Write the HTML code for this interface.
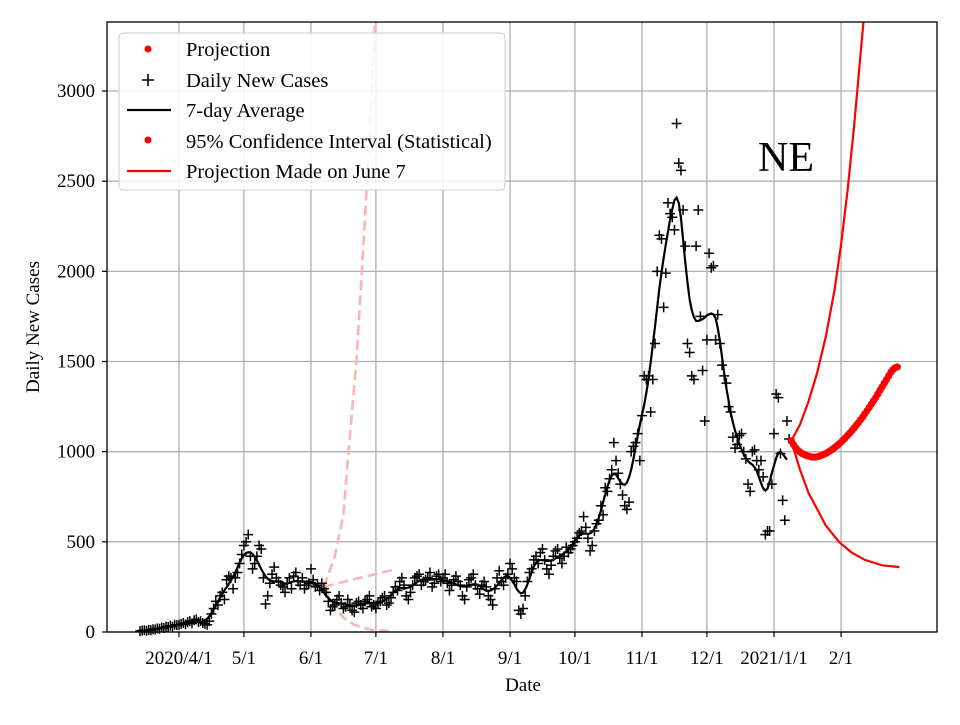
<!DOCTYPE html>
<html><head><meta charset="utf-8">
<style>
html,body{margin:0;padding:0;background:#fff;}
svg text{font-family:"Liberation Serif","DejaVu Serif",serif;}
</style></head>
<body>
<svg id="chart" width="960" height="720" xmlns="http://www.w3.org/2000/svg">
<rect x="0" y="0" width="960" height="720" fill="#fff"/>
<g id="grid"></g>
<g id="series"></g>
<rect x="107" y="22" width="830" height="610" fill="none" stroke="#000" stroke-width="1.3"/>
<g id="axes"></g>
<text x="523" y="691" font-size="19" text-anchor="middle">Date</text>
<text x="39" y="327" font-size="19" text-anchor="middle" transform="rotate(-90 39 327)">Daily New Cases</text>
<text x="758" y="171" font-size="42">NE</text>
<g>
<rect x="119" y="33" width="386" height="157" rx="4" fill="#fff" fill-opacity="0.85" stroke="#ccc" stroke-width="1"/>
<g><circle cx="148" cy="49" r="3.5" fill="#f00"/><text x="186" y="56" font-size="20.5">Projection</text></g>
<g><path d="M142 80h12M148 74v12" stroke="#000" stroke-width="1.6"/><text x="186" y="87" font-size="20.5">Daily New Cases</text></g>
<g><path d="M127 110h44" stroke="#000" stroke-width="2.2"/><text x="186" y="117" font-size="20.5">7-day Average</text></g>
<g><circle cx="148" cy="140" r="3.5" fill="#f00"/><text x="186" y="148" font-size="20.5">95% Confidence Interval (Statistical)</text></g>
<g><path d="M127 171h44" stroke="#f00" stroke-width="2.2"/><text x="186" y="178" font-size="20.5">Projection Made on June 7</text></g>
</g>
</svg>
<script>
// data: days since 2020-04-01
const startDay = -18;
const dailyCases = [
5,8,10,6,12,10,15,14,20,18,25,22,30,28,35,30,40,38,
40,45,50,42,55,60,48,65,70,55,60,50,45,40,60,
100,130,170,150,200,220,180,290,310,300,240,300,330,380,430,
480,500,540,420,350,380,420,480,460,300,155,200,270,320,360,
300,280,260,250,220,270,300,240,310,330,280,260,300,240,260,270,
350,290,250,260,230,270,240,220,170,120,140,150,180,200,160,
130,140,180,150,120,110,160,170,150,130,170,180,200,140,150,
130,160,170,190,200,150,160,190,220,250,230,280,300,260,200,
180,220,260,300,310,320,260,280,290,300,330,250,270,310,320,280,
300,320,270,230,260,290,310,280,260,200,180,250,290,300,320,
260,240,210,260,280,250,200,180,150,240,300,340,280,260,300,320,
380,350,300,280,120,100,130,200,280,330,350,400,420,380,440,
460,400,350,320,370,420,450,460,410,380,420,470,440,460,480,
500,520,550,560,640,580,520,450,480,560,600,620,700,650,800,
780,850,900,1050,950,880,820,760,700,680,720,1000,1030,1050,1100,950,
1200,1420,1400,1420,1220,1400,1600,2000,2200,2180,1800,1990,2380,2320,2300,
2230,2820,2600,2560,2340,2140,1600,1550,1420,1400,2140,2340,1750,1450,1170,
1620,2100,2020,2030,1620,1760,1600,1480,1420,1380,1250,1220,1080,1020,1040,
1090,1100,1000,960,820,780,1000,1010,950,900,950,860,540,560,560,820,
1100,1320,1300,990,730,620,1170,1070];
const projStart = 283;
const projection = [1060,1040,1022,1008,998,990,984,979,975,972,970,970,972,975,980,985,990,997,1005,1013,1022,1032,1042,1053,1065,1077,1090,1103,1117,1131,1146,1161,1177,1193,1210,1227,1245,1263,1282,1300,1320,1340,1360,1380,1400,1420,1440,1455,1465,1470];
const upperDays = [283,287,291,295,299,303,306,309,312,315,318];
const upperVals = [1060,1150,1280,1440,1640,1900,2150,2450,2800,3200,3600];
const lowerDays = [283,287,291,295,299,305,311,317,325,333];
const lowerVals = [1060,900,770,680,590,500,440,400,370,360];
const juneUpDays = [67,72,76,78,82,86,90.6];
const juneUpVals = [250,420,650,954,1500,2300,3383];
const juneMidDays = [67,80,99];
const juneMidVals = [250,290,345];
const juneLowDays = [67,72,76,81,86,90,97];
const juneLowVals = [250,140,80,40,20,10,5];
const xTickDays = [0,30,61,91,122,153,183,214,244,275,306];
const xTickLabels = ["2020/4/1","5/1","6/1","7/1","8/1","9/1","10/1","11/1","12/1","2021/1/1","2/1"];
const yTicks = [0,500,1000,1500,2000,2500,3000];

const NS="http://www.w3.org/2000/svg";
const X=d=>179+d*2.1636;
const Y=v=>632-v*0.18033;
function mk(tag,attrs,parent){const e=document.createElementNS(NS,tag);for(const k in attrs)e.setAttribute(k,attrs[k]);parent.appendChild(e);return e;}
const grid=document.getElementById('grid'),axes=document.getElementById('axes'),ser=document.getElementById('series');
xTickDays.forEach((d,i)=>{
  const g=mk('line',{x1:X(d),x2:X(d),y1:22,y2:632,stroke:'#b0b0b0','stroke-width':1.3},grid);
  
  
  const t=mk('line',{x1:X(d),x2:X(d),y1:632,y2:637,stroke:'#000','stroke-width':1.2},axes);
  
  
  const l=mk('text',{x:X(d),y:664,'font-size':19,'text-anchor':'middle'},axes);l.textContent=xTickLabels[i];
  
  
});
yTicks.forEach(v=>{
  const g=mk('line',{x1:107,x2:937,y1:Y(v),y2:Y(v),stroke:'#b0b0b0','stroke-width':1.3},grid);
  
  
  const t=mk('line',{x1:102,x2:107,y1:Y(v),y2:Y(v),stroke:'#000','stroke-width':1.2},axes);
  
  
  const l=mk('text',{x:95,y:Y(v)+6,'font-size':19,'text-anchor':'end'},axes);l.textContent=v;
  
  
});
const clip=mk('clipPath',{id:'pc'},document.getElementById('chart'));
mk('rect',{x:107,y:22,width:830,height:610},clip);
function pathOf(days,vals){return days.map((d,i)=>(i?'L':'M')+X(d).toFixed(1)+' '+Y(vals[i]).toFixed(1)).join(' ');}
[[juneUpDays,juneUpVals,'june7-upper-line'],[juneMidDays,juneMidVals,'june7-mid-line'],[juneLowDays,juneLowVals,'june7-lower-line']].forEach(([d,v,n])=>{
  const p=mk('path',{d:pathOf(d,v),fill:'none',stroke:'#ffb3b3','stroke-width':2.6,'stroke-dasharray':'10 5','clip-path':'url(#pc)'},ser);
  
  
});
dailyCases.forEach((v,i)=>{
  const x=X(startDay+i),y=Y(v);
  const c=mk('path',{d:`M${x-5} ${y}h10M${x} ${y-5}v10`,stroke:'#000','stroke-width':1.5},ser);
  
  
});
// 7-day average, lightly smoothed
const ma=[];
for(let i=0;i<dailyCases.length;i++){let s=0,n=0;for(let k=i-3;k<=i+3;k++){if(k>=0&&k<dailyCases.length){s+=dailyCases[k];n++;}}ma.push(s/n);}
const avgD=[],avgV=[];
for(let i=3;i<ma.length-1;i++){let s=0,n=0;for(let k=i-2;k<=i+2;k++){if(k>=0&&k<ma.length){s+=ma[k];n++;}}avgD.push(startDay+i);avgV.push(s/n);}
const av=mk('path',{d:pathOf(avgD,avgV),fill:'none',stroke:'#000','stroke-width':2.2},ser);


const up=mk('path',{d:pathOf(upperDays,upperVals),fill:'none',stroke:'#f00','stroke-width':2.2,'clip-path':'url(#pc)'},ser);


const lo=mk('path',{d:pathOf(lowerDays,lowerVals),fill:'none',stroke:'#f00','stroke-width':2.2},ser);


projection.forEach((v,i)=>{
  const c=mk('circle',{cx:X(projStart+i),cy:Y(v),r:3.6,fill:'#f00'},ser);
  
  
});
</script>
</body></html>
